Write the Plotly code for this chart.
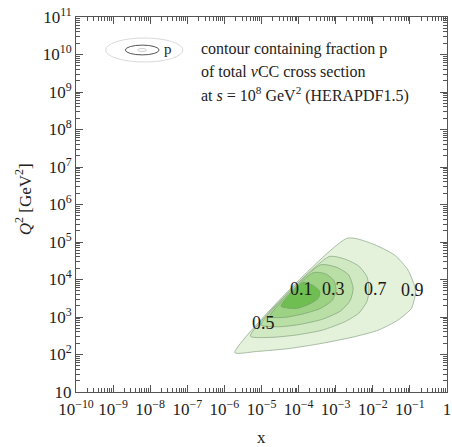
import plotly.graph_objects as go

# ---- data (log10 values) ----
# contour boundaries: log10(x), log10(Q^2)
c09_lx = [-5.72, -2.69, -2.03, -1.41, -1.05, -0.87, -0.85, -0.96, -1.32, -1.85, -2.47, -3.36, -4.25, -5.14, -5.72]
c09_lq = [2.05, 5.10, 4.96, 4.65, 4.25, 3.81, 3.63, 3.23, 2.92, 2.65, 2.48, 2.30, 2.16, 2.08, 2.05]

c07_lx = [-3.18, -2.74, -2.38, -2.16, -2.10, -2.16, -2.38, -2.74, -3.36, -4.07, -4.69, -5.30, -3.18]
c07_lq = [4.61, 4.54, 4.36, 4.08, 3.72, 3.41, 3.10, 2.88, 2.65, 2.52, 2.46, 2.49, 4.61]

c05_lx = [-3.41, -2.96, -2.65, -2.53, -2.61, -2.87, -3.36, -3.98, -4.52, -5.01, -3.41]
c05_lq = [4.39, 4.32, 4.12, 3.76, 3.44, 3.16, 2.94, 2.80, 2.74, 2.79, 4.39]

c03_lx = [-3.61, -3.27, -3.05, -2.99, -3.09, -3.41, -3.89, -4.38, -4.78, -3.61]
c03_lq = [4.18, 4.15, 3.97, 3.72, 3.45, 3.23, 3.08, 2.99, 3.01, 4.18]

c01_lx = [-3.88, -3.61, -3.43, -3.47, -3.70, -4.05, -4.47, -3.88]
c01_lq = [3.92, 3.84, 3.68, 3.50, 3.35, 3.23, 3.29, 3.92]

contour_labels = ["0.1", "0.3", "0.7", "0.9", "0.5"]
label_lx = [-3.91, -3.07, -1.92, -0.92, -4.94]
label_lq = [3.76, 3.75, 3.75, 3.72, 2.85]

x_tick_exp = list(range(-10, 1))
x_tick_text = [f"10<sup>{e}</sup>" if e != 0 else "1" for e in x_tick_exp]
x_tick_text = [t.replace("-", "\u2212") for t in x_tick_text]
y_tick_exp = list(range(1, 12))
y_tick_text = ["10" if e == 1 else f"10<sup>{e}</sup>" for e in y_tick_exp]

# ---- figure ----
fills = ["#e4f2dc", "#d0e9c3", "#b9dfa6", "#9dd284", "#6fbe52"]
lines = ["#a9bca4", "#9fb896", "#93b487", "#88b07a", "#79aa68"]
contours = [(c09_lx, c09_lq), (c07_lx, c07_lq), (c05_lx, c05_lq), (c03_lx, c03_lq), (c01_lx, c01_lq)]

fig = go.Figure()
for (lx, lq), fc, lc in zip(contours, fills, lines):
    fig.add_trace(go.Scatter(
        x=[10 ** v for v in lx], y=[10 ** v for v in lq],
        mode="lines", fill="toself", fillcolor=fc,
        line=dict(color=lc, width=1, shape="spline", smoothing=0.6),
        hoverinfo="skip", showlegend=False))

serif = "Liberation Serif"
for t, lx, lq in zip(contour_labels, label_lx, label_lq):
    fig.add_annotation(x=lx, y=lq, xref="x", yref="y", text=t, showarrow=False,
                       xanchor="center", yanchor="middle",
                       font=dict(family=serif, size=18, color="#1a1a1a"))

minor_x = [k * 10 ** e for e in range(-10, 0) for k in range(2, 10)]
minor_y = [k * 10 ** e for e in range(1, 11) for k in range(2, 10)]

axis_common = dict(type="log", showgrid=False, zeroline=False, showline=True,
                   linecolor="#555", linewidth=1, mirror="allticks",
                   ticks="inside", ticklen=7, tickcolor="#555", tickwidth=1,
                   ticklabeloverflow="allow",
                   tickfont=dict(family=serif, size=17, color="#222"))

fig.update_xaxes(range=[-10, 0], tickmode="array",
                 tickvals=[10 ** e for e in x_tick_exp], ticktext=x_tick_text,
                 ticklabelstandoff=2,
                 minor=dict(tickmode="array", tickvals=minor_x, ticks="inside",
                            ticklen=4, tickcolor="#555", showgrid=False),
                 **axis_common)
fig.update_yaxes(range=[1, 11], tickmode="array",
                 tickvals=[10 ** e for e in y_tick_exp], ticktext=y_tick_text,
                 minor=dict(tickmode="array", tickvals=minor_y, ticks="inside",
                            ticklen=4, tickcolor="#555", showgrid=False),
                 **axis_common)

# axis titles
fig.add_annotation(x=0.499, y=-0.12, xref="paper", yref="paper", text="x",
                   xanchor="center", yanchor="middle",
                   showarrow=False, font=dict(family=serif, size=17, color="#222"))
fig.add_annotation(x=-0.142, y=0.515, xref="paper", yref="paper",
                   text="<i>Q</i><sup>2</sup> [GeV<sup>2</sup>]", textangle=-90,
                   xanchor="center", yanchor="middle",
                   showarrow=False, font=dict(family=serif, size=17, color="#222"))

# legend decoration
fig.add_shape(type="circle", xref="paper", yref="paper", x0=0.08, x1=0.288, y0=0.88, y1=0.944,
              line=dict(color="#dadada", width=1))
fig.add_shape(type="circle", xref="paper", yref="paper", x0=0.133, x1=0.224, y0=0.899, y1=0.925,
              line=dict(color="#555", width=1))
fig.add_shape(type="circle", xref="paper", yref="paper", x0=0.166, x1=0.19, y0=0.908, y1=0.916,
              line=dict(color="#cfcfcf", width=1))
fig.add_annotation(x=0.247, y=0.914, xref="paper", yref="paper", text="p", showarrow=False,
                   xanchor="center", yanchor="middle",
                   font=dict(family=serif, size=15, color="#222"))

legend_lines = ["contour containing fraction p",
                "of total <i>\u03bd</i>CC cross section",
                "at <i>s</i> = 10<sup>8</sup> GeV<sup>2</sup> (HERAPDF1.5)"]
legend_py = [49, 72, 95]
for t, py in zip(legend_lines, legend_py):
    fig.add_annotation(x=0.332, y=(392 - py) / 375, xref="paper", yref="paper", text=t,
                       xanchor="left", yanchor="middle", showarrow=False,
                       font=dict(family=serif, size=16, color="#222"))

fig.update_layout(width=452, height=447, margin=dict(l=76, r=1, t=17, b=55),
                  plot_bgcolor="white", paper_bgcolor="white")

fig.write_html("out.html")
